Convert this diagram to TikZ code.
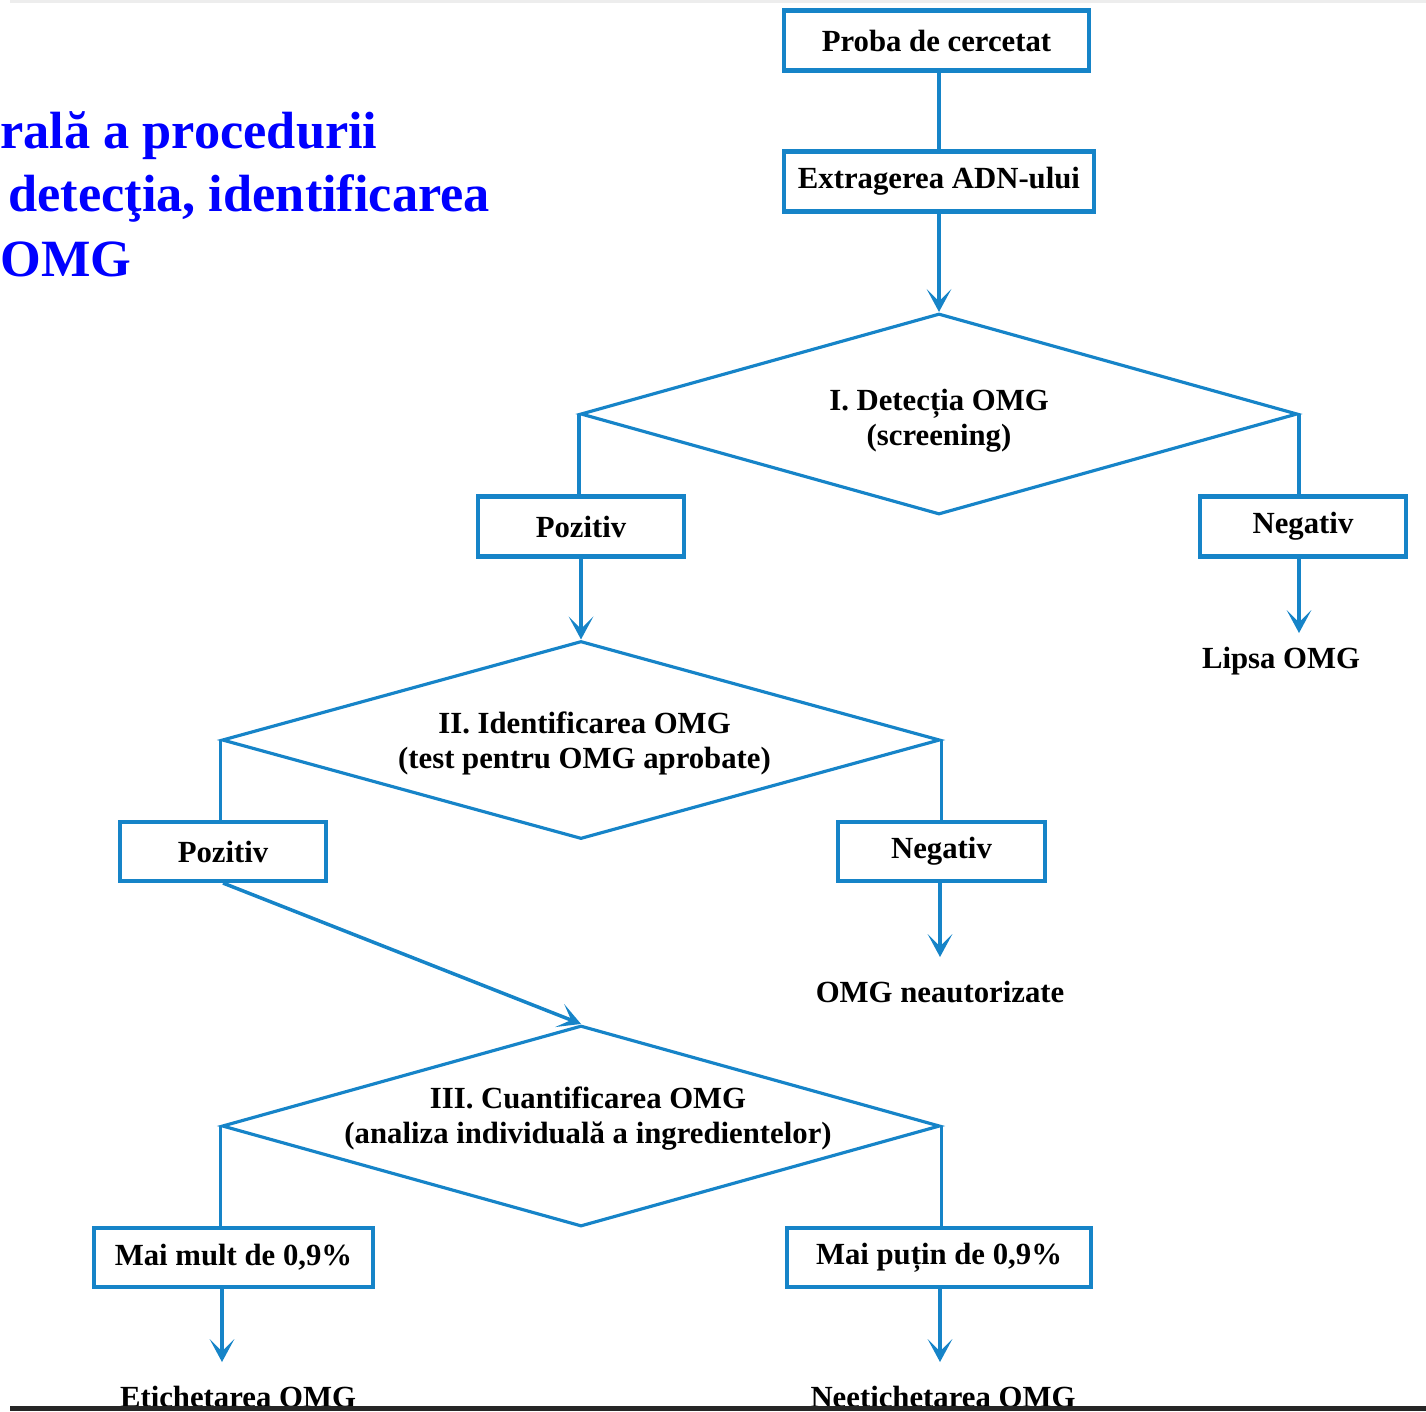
\documentclass[tikz,border=0pt]{standalone}
\usepackage{fontspec}
\setmainfont{Liberation Serif}
\usepackage{tikz}
\usetikzlibrary{shapes.geometric,arrows.meta}
\definecolor{flowblue}{RGB}{22,132,200}
\definecolor{titleblue}{RGB}{0,0,255}
\tikzset{
  font={\fontsize{17.5pt}{20pt}\selectfont\bfseries}}

\begin{document}
\begin{tikzpicture}[x=0.02cm,y=-0.02cm,
  box/.style={draw=flowblue,line width=2.3pt,inner sep=0pt,minimum height=1.2cm},
  decision/.style={draw=flowblue,line width=1.8pt,shape=diamond,inner sep=0pt},
  res/.style={anchor=base,inner sep=0pt},
  title/.style={anchor=base west,inner sep=0pt,text=titleblue,font={\fontsize{29.8pt}{34pt}\selectfont\bfseries}},
  conn/.style={draw=flowblue,line width=2pt},
  arr/.style={conn,-{Stealth[length=13pt,width=14pt,inset=7pt]}}]
\useasboundingbox (0,0) rectangle (1426,1411);
\clip (0,0) rectangle (1426,1411);
\fill [black!7] (10,0) rectangle (1426,3);
% title, cut off at the left
\node [title] (t1) at (0,148) {rală a procedurii};
\node [title] (t2) at (8,211) {detecţia, identificarea};
\node [title] (t3) at (0,276) {OMG};
% boxes
\node [box,minimum width=6.1cm] (proba) at (936.5,40.5) {Proba de cercetat};
\node [box,minimum width=6.2cm] (extrag) at (939,181.5) {Extragerea ADN-ului};
\node [box,minimum width=4.12cm] (poz1) at (581,526.5) {Pozitiv};
\node [box,minimum width=4.12cm] (neg1) at (1303,526.5) {Negativ};
\node [box,minimum width=4.12cm,minimum height=1.18cm] (poz2) at (223,851.5) {Pozitiv};
\node [box,minimum width=4.14cm,minimum height=1.18cm] (neg2) at (941.5,851.5) {Negativ};
\node [box,minimum width=5.58cm,minimum height=1.18cm] (mult) at (233.5,1257.5) {Mai mult de 0,9\%};
\node [box,minimum width=6.08cm,minimum height=1.18cm] (putin) at (939,1257.5) {Mai puțin de 0,9\%};
% decisions
\node [decision,minimum width=14.34cm,minimum height=4.02cm,
  label={[align=center,yshift=-4pt]center:I. Detecția OMG\\(screening)}] (det) at (939,414) {};
\node [decision,minimum width=14.36cm,minimum height=3.96cm,
  label={[align=center,xshift=2pt,yshift=-2pt]center:II. Identificarea OMG\\(test pentru OMG aprobate)}] (ident) at (581,740) {};
\node [decision,minimum width=14.36cm,minimum height=4.02cm,
  label={[align=center,xshift=4pt,yshift=4pt]center:III. Cuantificarea OMG\\(analiza individuală a ingredientelor)}] (cuant) at (581,1126) {};
% results
\node [res] (lipsa) at (1281,668) {Lipsa OMG};
\node [res] (neaut) at (940,1002) {OMG neautorizate};
\node [res] (etich) at (238,1407) {Etichetarea OMG};
\node [res] (neetich) at (943,1407) {Neetichetarea OMG};
\coordinate (lipsatip) at (1299,633);
\coordinate (neauttip) at (940,957);
\coordinate (etichtip) at (222,1362);
\coordinate (neetichtip) at (940,1362);
% connectors
\draw [conn] (extrag.north |- proba.south) -- (extrag.north);
\draw [arr] (extrag) -- (det.north);
\draw [conn] (det.west) -- (det.west |- poz1.north);
\draw [conn] (det.east) -- (det.east |- neg1.north);
\draw [arr] (lipsatip |- neg1.south) -- (lipsatip);
\draw [arr] (poz1) -- (ident.north);
\draw [conn] (ident.west) -- (ident.west |- poz2.north);
\draw [conn] (ident.east) -- (ident.east |- neg2.north);
\draw [arr] (neauttip |- neg2.south) -- (neauttip);
\draw [arr] (poz2.south) -- (cuant.north);
\draw [conn] (cuant.west) -- (cuant.west |- mult.north);
\draw [conn] (cuant.east) -- (cuant.east |- putin.north);
\draw [arr] (etichtip |- mult.south) -- (etichtip);
\draw [arr] (neetichtip |- putin.south) -- (neetichtip);
\fill [black!85] (10,1406) rectangle (1426,1411);
\end{tikzpicture}
\end{document}
